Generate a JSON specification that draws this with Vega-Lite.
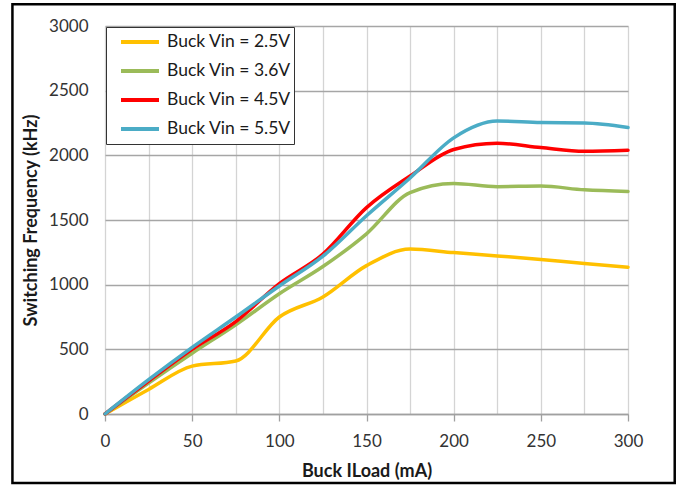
{
  "$schema": "https://vega.github.io/schema/vega-lite/v6.json",
  "width": 523,
  "height": 388,
  "autosize": {"type": "none"},
  "padding": {"left": 105, "top": 26, "right": 55, "bottom": 72},
  "background": "white",
  "config": {
    "view": {"stroke": null},
    "font": "Lato",
    "axis": {"labelFont": "Lato", "titleFont": "Lato", "labelColor": "#333333", "titleColor": "#1a1a1a"}
  },
  "datasets": {
    "curves": [
      {"load": 0, "vin": "Buck Vin = 2.5V", "freq": 0},
      {"load": 25, "vin": "Buck Vin = 2.5V", "freq": 190},
      {"load": 50, "vin": "Buck Vin = 2.5V", "freq": 370},
      {"load": 75, "vin": "Buck Vin = 2.5V", "freq": 410},
      {"load": 100, "vin": "Buck Vin = 2.5V", "freq": 750},
      {"load": 125, "vin": "Buck Vin = 2.5V", "freq": 905},
      {"load": 150, "vin": "Buck Vin = 2.5V", "freq": 1147},
      {"load": 175, "vin": "Buck Vin = 2.5V", "freq": 1275},
      {"load": 200, "vin": "Buck Vin = 2.5V", "freq": 1248},
      {"load": 225, "vin": "Buck Vin = 2.5V", "freq": 1222},
      {"load": 250, "vin": "Buck Vin = 2.5V", "freq": 1195},
      {"load": 275, "vin": "Buck Vin = 2.5V", "freq": 1163},
      {"load": 300, "vin": "Buck Vin = 2.5V", "freq": 1135},
      {"load": 0, "vin": "Buck Vin = 3.6V", "freq": 0},
      {"load": 25, "vin": "Buck Vin = 3.6V", "freq": 240},
      {"load": 50, "vin": "Buck Vin = 3.6V", "freq": 470},
      {"load": 75, "vin": "Buck Vin = 3.6V", "freq": 690},
      {"load": 100, "vin": "Buck Vin = 3.6V", "freq": 930},
      {"load": 125, "vin": "Buck Vin = 3.6V", "freq": 1140},
      {"load": 150, "vin": "Buck Vin = 3.6V", "freq": 1393},
      {"load": 175, "vin": "Buck Vin = 3.6V", "freq": 1712},
      {"load": 200, "vin": "Buck Vin = 3.6V", "freq": 1782},
      {"load": 225, "vin": "Buck Vin = 3.6V", "freq": 1758},
      {"load": 250, "vin": "Buck Vin = 3.6V", "freq": 1762},
      {"load": 275, "vin": "Buck Vin = 3.6V", "freq": 1733},
      {"load": 300, "vin": "Buck Vin = 3.6V", "freq": 1721},
      {"load": 0, "vin": "Buck Vin = 4.5V", "freq": 0},
      {"load": 25, "vin": "Buck Vin = 4.5V", "freq": 255},
      {"load": 50, "vin": "Buck Vin = 4.5V", "freq": 500},
      {"load": 75, "vin": "Buck Vin = 4.5V", "freq": 715},
      {"load": 100, "vin": "Buck Vin = 4.5V", "freq": 1008},
      {"load": 125, "vin": "Buck Vin = 4.5V", "freq": 1236},
      {"load": 150, "vin": "Buck Vin = 4.5V", "freq": 1596},
      {"load": 175, "vin": "Buck Vin = 4.5V", "freq": 1840},
      {"load": 200, "vin": "Buck Vin = 4.5V", "freq": 2045},
      {"load": 225, "vin": "Buck Vin = 4.5V", "freq": 2094},
      {"load": 250, "vin": "Buck Vin = 4.5V", "freq": 2060},
      {"load": 275, "vin": "Buck Vin = 4.5V", "freq": 2031},
      {"load": 300, "vin": "Buck Vin = 4.5V", "freq": 2039},
      {"load": 0, "vin": "Buck Vin = 5.5V", "freq": 0},
      {"load": 25, "vin": "Buck Vin = 5.5V", "freq": 265},
      {"load": 50, "vin": "Buck Vin = 5.5V", "freq": 515},
      {"load": 75, "vin": "Buck Vin = 5.5V", "freq": 750},
      {"load": 100, "vin": "Buck Vin = 5.5V", "freq": 990},
      {"load": 125, "vin": "Buck Vin = 5.5V", "freq": 1220},
      {"load": 150, "vin": "Buck Vin = 5.5V", "freq": 1533},
      {"load": 175, "vin": "Buck Vin = 5.5V", "freq": 1825},
      {"load": 200, "vin": "Buck Vin = 5.5V", "freq": 2135},
      {"load": 225, "vin": "Buck Vin = 5.5V", "freq": 2265},
      {"load": 250, "vin": "Buck Vin = 5.5V", "freq": 2253},
      {"load": 275, "vin": "Buck Vin = 5.5V", "freq": 2250},
      {"load": 300, "vin": "Buck Vin = 5.5V", "freq": 2216}
    ],
    "frame": [{"frame": "chart"}]
  },
  "layer": [
    {
      "data": {"name": "frame"},
      "mark": {"type": "rect", "fill": null, "stroke": "#000000", "strokeWidth": 2.5},
      "encoding": {
        "x": {"datum": -53.1, "type": "quantitative", "scale": {"domain": [0, 300], "nice": false, "zero": false}},
        "x2": {"datum": 326.8},
        "y": {"datum": 3168, "type": "quantitative", "scale": {"domain": [0, 3000], "nice": false, "zero": false}},
        "y2": {"datum": -533}
      }
    },
    {
      "data": {"name": "curves"},
      "mark": {"type": "line", "interpolate": "monotone", "strokeWidth": 3.5, "strokeCap": "round"},
      "encoding": {
        "x": {
          "field": "load", "type": "quantitative",
          "scale": {"domain": [0, 300], "nice": false, "zero": false},
          "axis": {
            "values": [0, 25, 50, 75, 100, 125, 150, 175, 200, 225, 250, 275, 300],
            "labelExpr": "datum.value % 50 === 0 ? datum.label : ''",
            "labelFlush": false,
            "labelOverlap": false,
            "grid": true, "gridColor": "#d4d4d4", "gridWidth": 1.3,
            "domainColor": "#a0a0a0", "domainWidth": 1.3,
            "tickColor": "#a0a0a0", "tickWidth": 1.3, "tickSize": 7,
            "tickOpacity": {"condition": {"test": "datum.value % 50 === 0", "value": 1}, "value": 0},
            "labelFontSize": 17, "labelPadding": 12,
            "title": "Buck ILoad (mA)", "titleFontSize": 18, "titleFontWeight": "bold", "titlePadding": 13
          }
        },
        "y": {
          "field": "freq", "type": "quantitative",
          "scale": {"domain": [0, 3000], "nice": false, "zero": false},
          "axis": {
            "values": [0, 500, 1000, 1500, 2000, 2500, 3000],
            "format": "d",
            "grid": true, "gridColor": "#a6a6a6", "gridWidth": 1.3,
            "domain": false, "ticks": false,
            "labelFontSize": 17, "labelPadding": 17,
            "title": "Switching Frequency (kHz)", "titleFontSize": 18, "titleFontWeight": "bold", "titlePadding": 8
          }
        },
        "color": {
          "field": "vin", "type": "nominal",
          "scale": {
            "domain": ["Buck Vin = 2.5V", "Buck Vin = 3.6V", "Buck Vin = 4.5V", "Buck Vin = 5.5V"],
            "range": ["#FFC000", "#9BBB59", "#FF0000", "#4BACC6"]
          },
          "legend": {
            "title": null,
            "orient": "top-left",
            "offset": 1,
            "strokeColor": "#333333",
            "fillColor": "white",
            "padding": 3,
            "clipHeight": 24,
            "rowPadding": 5,
            "symbolType": "stroke",
            "symbolSize": 1444,
            "symbolStrokeWidth": 4,
            "symbolOffset": 10,
            "labelFont": "Lato",
            "labelFontSize": 17.5,
            "labelColor": "#1a1a1a",
            "labelOffset": 6,
            "labelExpr": "datum.label + '\u2002\u2002'"
          }
        }
      }
    }
  ]
}
